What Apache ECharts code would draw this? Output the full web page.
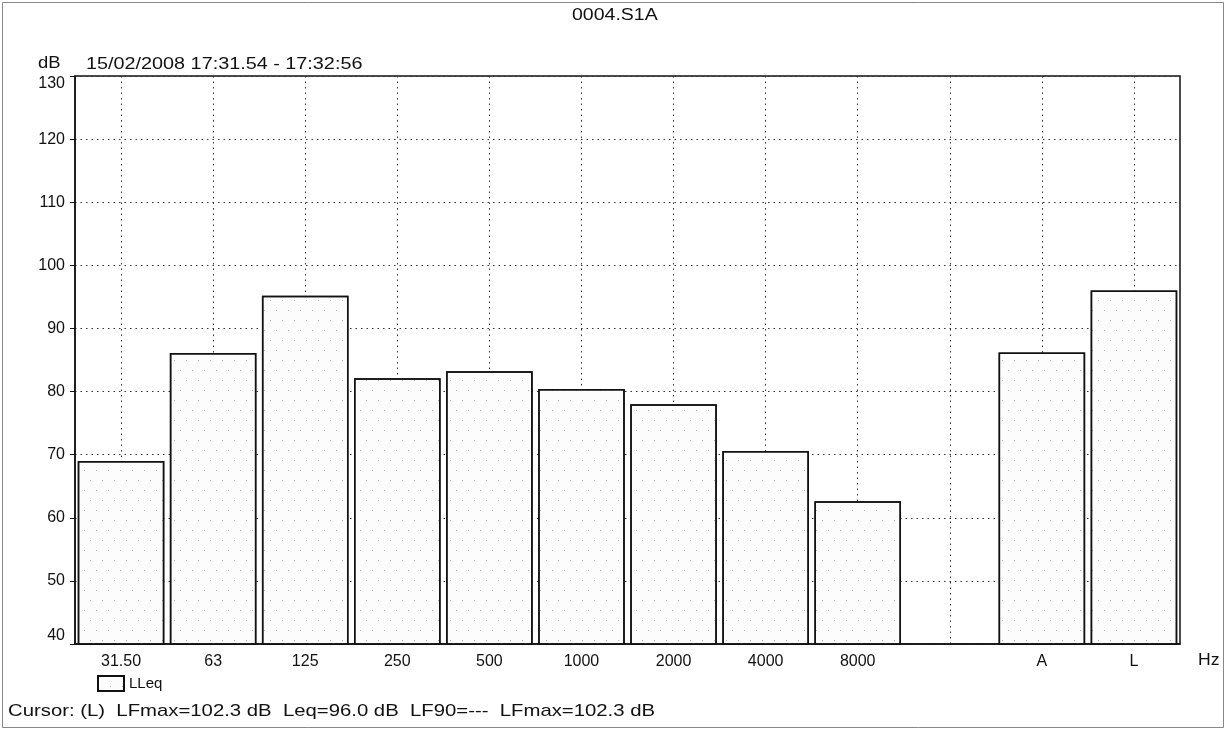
<!DOCTYPE html>
<html>
<head>
    <meta charset="UTF-8"/>
    <title>0004.S1A</title>
    <style>
        html, body { margin: 0; padding: 0; background: #fff; }
        #main { width: 1227px; height: 731px; }
    </style>
</head>
<body>
<div id="main"></div>
<script src="https://cdn.jsdelivr.net/npm/echarts@6/dist/echarts.min.js"></script>
<script type="text/javascript">
    // 频带 / 计权
    const bands = ["31.50", "63", "125", "250", "500", "1000", "2000", "4000", "8000", "", "A", "L"];
    // LLeq (dB)
    const lleq = [69.0, 86.1, 95.2, 82.1, 83.2, 80.4, 78.0, 70.6, 62.6, "-", 86.2, 96.0];
    const yTicks = {min: 40, max: 130, step: 10};

    const fontFamily = "'Liberation Sans', Arial, sans-serif";
    const chart = echarts.init(document.getElementById("main"), null, {renderer: "canvas"});

    // 扫描件上的文字略微横向拉宽
    function label(text, x, y, size, sx) {
        return {
            type: "text", x: x, y: y, scaleX: sx,
            style: {text: text, font: size + "px " + fontFamily, fill: "#111", textVerticalAlign: "middle"}
        };
    }

    const option = {
        backgroundColor: "#fff",
        animation: false,
        textStyle: {fontFamily: fontFamily, color: "#111"},
        legend: {
            left: 92,
            top: 670,
            icon: "rect",
            itemWidth: 26,
            itemHeight: 15,
            itemGap: 4,
            textStyle: {fontSize: 15, color: "#111", fontFamily: fontFamily},
            data: ["LLeq"]
        },
        grid: {
            left: 75, right: 47, top: 76, bottom: 87,
            show: true,
            borderColor: "#111",
            borderWidth: 1.5,
            backgroundColor: "transparent"
        },
        xAxis: {
            type: "category",
            data: bands,
            axisLine: {lineStyle: {color: "#111", width: 1.5}},
            axisTick: {show: false},
            axisLabel: {fontSize: 16, color: "#111", margin: 10, interval: 0},
            splitLine: {
                show: true,
                alignWithLabel: true,
                interval: 0,
                lineStyle: {color: "#333", type: [1.5, 4], width: 1}
            }
        },
        yAxis: {
            type: "value",
            min: yTicks.min,
            max: yTicks.max,
            interval: yTicks.step,
            axisLine: {show: true, lineStyle: {color: "#111", width: 1.5}},
            axisTick: {show: true, length: 5, lineStyle: {color: "#111"}},
            axisLabel: {
                fontSize: 16, color: "#111", margin: 10,
                verticalAlignMinLabel: "bottom",
                verticalAlignMaxLabel: "top"
            },
            splitLine: {lineStyle: {color: "#333", type: [1.5, 4], width: 1}}
        },
        series: [{
            name: "LLeq",
            type: "bar",
            data: lleq,
            barCategoryGap: "6%",
            itemStyle: {
                color: "#fcfcfc",
                borderColor: "#111",
                borderWidth: 1.5,
                decal: {
                    symbol: "rect",
                    symbolSize: 1,
                    dashArrayX: [[1, 11], [0, 6, 1, 5]],
                    dashArrayY: [1, 9],
                    color: "rgba(0,0,0,0.3)"
                }
            }
        }],
        graphic: [
            label("0004.S1A", 572, 16, 16, 1.22),
            label("dB", 38, 64, 16, 1.15),
            label("15/02/2008 17:31.54 - 17:32:56", 86, 64, 17, 1.165),
            label("Hz", 1198, 661, 16, 1.1),
            label("Cursor: (L)  LFmax=102.3 dB  Leq=96.0 dB  LF90=---  LFmax=102.3 dB", 8, 711, 17, 1.195),
            {type: "rect", shape: {x: 2.5, y: 2.5, width: 1221, height: 725}, style: {fill: "none", stroke: "#888", lineWidth: 1}}
        ]
    };
    chart.setOption(option);
</script>
</body>
</html>
